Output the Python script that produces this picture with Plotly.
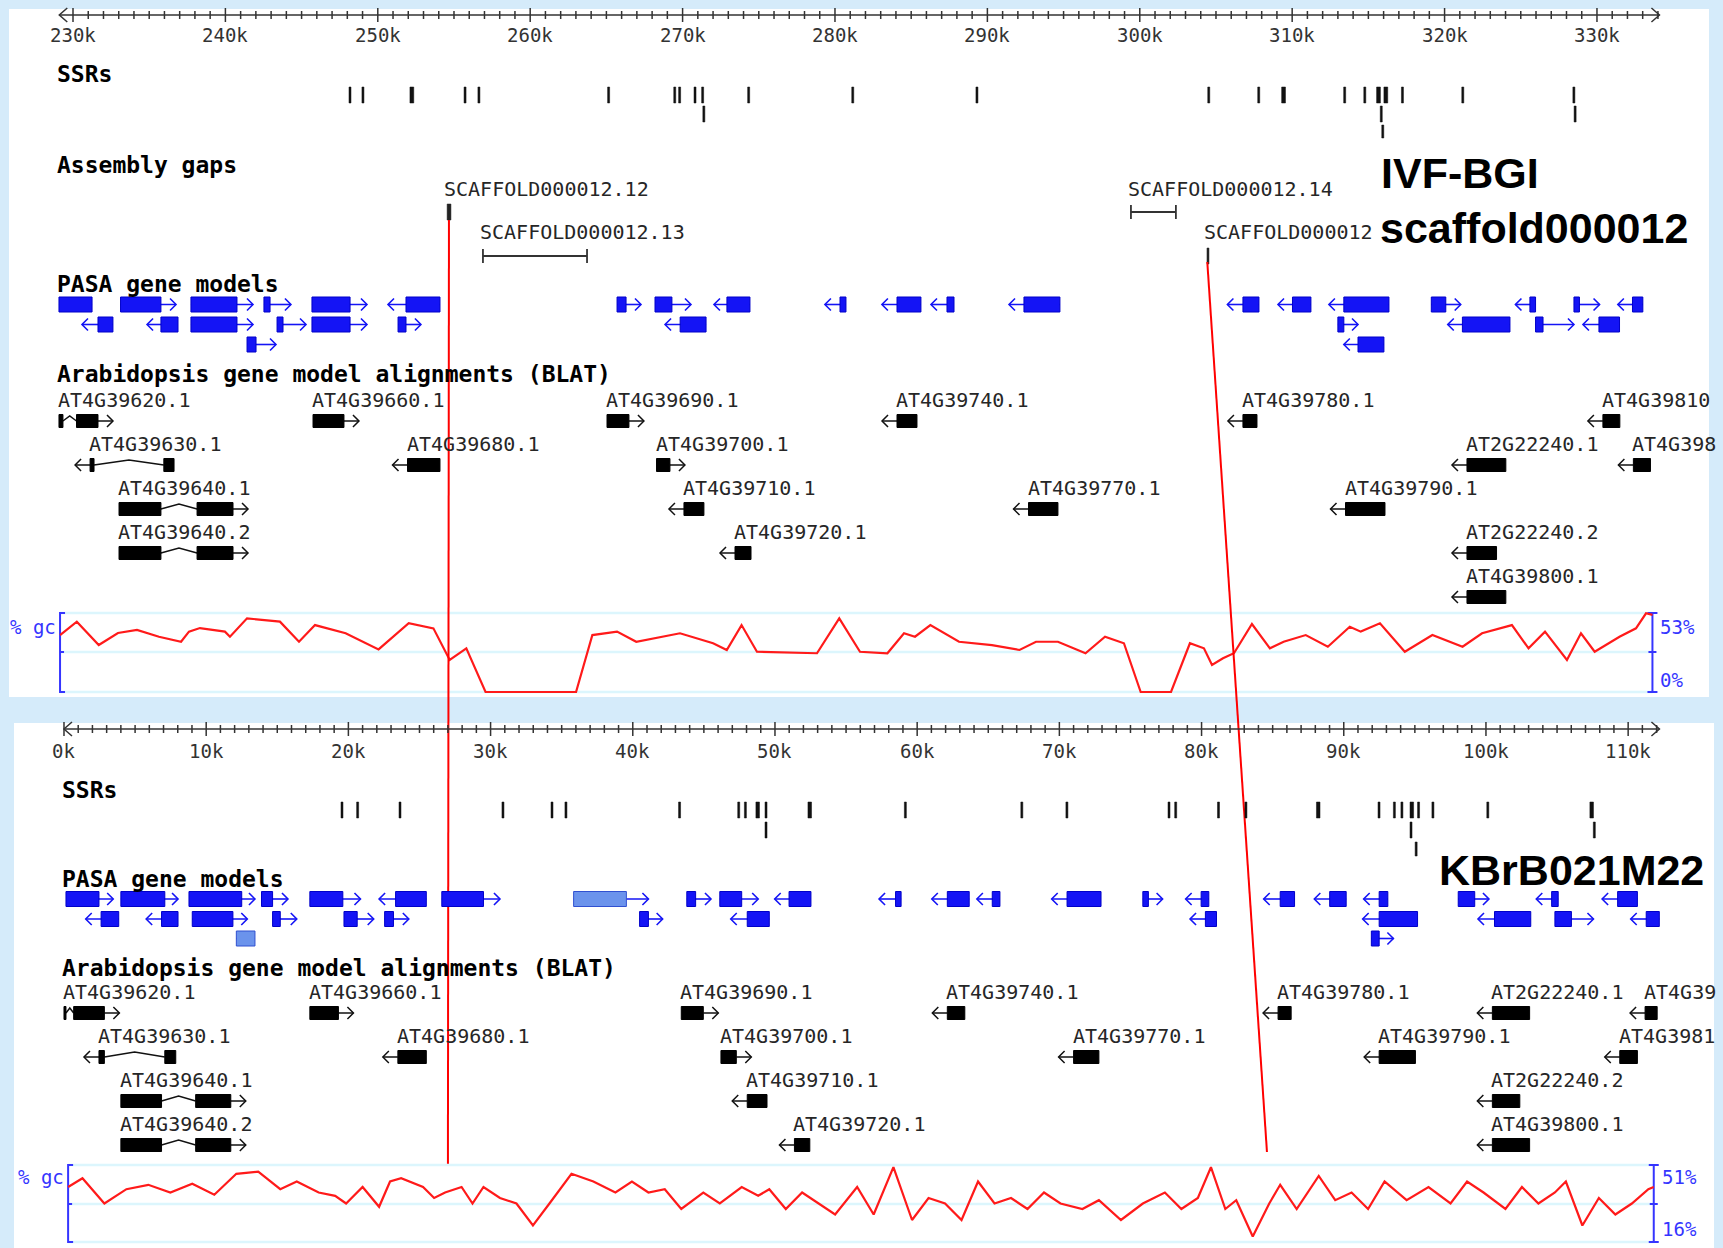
import math
import plotly.graph_objects as go

W, H = 1723, 1248

# ====================== DATA ======================
# rulers (kb)
top_tick_values = [230, 240, 250, 260, 270, 280, 290, 300, 310, 320, 330]
top_tick_labels = ["230k", "240k", "250k", "260k", "270k", "280k", "290k", "300k", "310k", "320k", "330k"]
bot_tick_values = [0, 10, 20, 30, 40, 50, 60, 70, 80, 90, 100, 110]
bot_tick_labels = ["0k", "10k", "20k", "30k", "40k", "50k", "60k", "70k", "80k", "90k", "100k", "110k"]
top_view_kb = [229.1, 334.1]
bot_view_kb = [0.0, 112.2]

# SSRs (kb position, stacking row, length bp)
top_ssr_kb = [248.11, 248.96, 252.11, 255.66, 256.57, 265.08, 269.42, 269.74, 270.75, 271.25,
              274.27, 281.10, 289.25, 304.46, 307.74, 309.31, 313.38, 314.70, 315.54, 316.02,
              317.17, 321.13, 328.42, 271.33, 315.78, 328.50, 315.88]
top_ssr_row = [0] * 23 + [1, 1, 1, 2]
top_ssr_bp = [120, 120, 250, 120, 120, 120, 120, 120, 120, 120,
              120, 120, 120, 120, 120, 250, 120, 120, 250, 250,
              120, 120, 120, 120, 120, 120, 120]
bot_ssr_kb = [19.48, 20.58, 23.56, 30.80, 34.25, 35.23, 43.22, 47.38, 47.85, 48.66,
              49.30, 52.32, 59.10, 67.29, 70.46, 77.64, 78.11, 81.12, 83.05, 88.08,
              92.41, 93.49, 94.02, 94.66, 95.19, 96.20, 100.06, 107.31, 49.30, 94.66,
              107.55, 95.02]
bot_ssr_row = [0] * 28 + [1, 1, 1, 2]
bot_ssr_bp = [120, 120, 120, 120, 120, 120, 120, 120, 120, 250,
              120, 250, 120, 120, 120, 120, 120, 120, 120, 250,
              120, 120, 120, 250, 120, 120, 120, 250, 120, 120,
              120, 120]

# Assembly gaps (top only)
gap_names = ["SCAFFOLD000012.12", "SCAFFOLD000012.13", "SCAFFOLD000012.14", "SCAFFOLD000012"]
gap_start = [254.55, 256.90, 299.42, 304.41]
gap_end = [254.80, 263.73, 302.37, 304.45]
gap_row = [0, 1, 0, 1]

# PASA gene models (kb): start, end, coding block start/end, strand, row
top_pasa_start = [229.08, 233.12, 237.74, 242.53, 245.68, 250.67, 230.59, 234.86, 237.74, 243.39,
                  245.68, 251.33, 241.42, 265.70, 268.19, 272.06, 279.34, 283.08, 286.30, 291.42,
                  268.85, 305.75, 309.07, 312.41, 319.13, 324.65, 328.49, 331.37, 313.00, 320.21,
                  325.97, 329.08, 313.39]
top_pasa_end = [231.25, 236.76, 241.81, 244.30, 249.29, 254.08, 232.62, 236.89, 241.81, 245.29,
                249.29, 252.83, 243.32, 267.27, 270.55, 274.42, 280.72, 285.64, 287.81, 294.76,
                271.54, 307.82, 311.23, 316.35, 321.06, 325.97, 330.17, 333.01, 314.32, 324.29,
                328.49, 331.48, 316.02]
top_pasa_bstart = [229.08, 233.12, 237.74, 242.53, 245.68, 251.85, 231.64, 235.77, 237.74, 243.39,
                   245.68, 251.33, 241.42, 265.70, 268.19, 272.91, 280.33, 284.07, 287.35, 292.40,
                   269.84, 306.77, 310.02, 313.39, 319.13, 325.60, 328.49, 332.33, 313.00, 321.17,
                   325.97, 330.13, 314.32]
top_pasa_bend = [231.25, 235.77, 240.76, 242.93, 248.18, 254.08, 232.62, 236.89, 240.76, 243.78,
                 248.18, 251.85, 242.01, 266.29, 269.30, 274.42, 280.72, 285.64, 287.81, 294.76,
                 271.54, 307.82, 311.23, 316.35, 320.08, 325.97, 328.85, 333.01, 313.39, 324.29,
                 326.46, 331.48, 316.02]
top_pasa_strand = ["+", "+", "+", "+", "+", "-", "-", "-", "+", "+",
                   "+", "+", "+", "+", "+", "-", "-", "-", "-", "-",
                   "-", "-", "-", "-", "+", "-", "+", "-", "+", "-",
                   "+", "-", "-"]
top_pasa_row = [0, 0, 0, 0, 0, 0, 1, 1, 1, 1, 1, 1, 2, 0, 0, 0, 0, 0, 0, 0,
                1, 0, 0, 0, 0, 0, 0, 0, 1, 1, 1, 1, 2]

bot_pasa_start = [0.14, 4.00, 8.79, 13.89, 17.29, 22.16, 26.57, 35.84, 43.80, 46.12,
                  49.98, 57.32, 61.03, 64.20, 69.46, 75.87, 78.88, 84.37, 87.93, 91.40,
                  98.05, 103.54, 108.17,
                  1.53, 5.78, 9.02, 14.67, 19.69, 22.55, 40.48, 46.89, 79.19, 91.33,
                  99.44, 104.85, 110.18,
                  12.12, 91.94]
bot_pasa_end = [3.46, 8.02, 13.43, 15.75, 20.85, 25.48, 30.66, 41.10, 45.50, 48.82,
                52.53, 58.87, 63.66, 65.82, 72.93, 77.26, 80.51, 86.54, 90.17, 93.10,
                100.21, 105.08, 110.65,
                3.85, 8.02, 12.89, 16.37, 21.78, 24.25, 42.10, 49.60, 81.05, 95.19,
                103.15, 107.56, 112.19,
                13.43, 93.49]
bot_pasa_bstart = [0.14, 4.00, 8.79, 13.89, 17.29, 23.32, 26.57, 35.84, 43.80, 46.12,
                   50.99, 58.48, 62.12, 65.28, 70.54, 75.87, 79.97, 85.53, 89.01, 92.49,
                   98.05, 104.62, 109.26,
                   2.61, 6.86, 9.02, 14.67, 19.69, 22.55, 40.48, 48.05, 80.27, 92.49,
                   100.60, 104.85, 111.27,
                   12.12, 91.94]
bot_pasa_bend = [2.46, 7.09, 12.50, 14.67, 19.61, 25.48, 29.50, 39.55, 44.42, 47.66,
                 52.53, 58.87, 63.66, 65.82, 72.93, 76.26, 80.51, 86.54, 90.17, 93.10,
                 99.21, 105.08, 110.65,
                 3.85, 8.02, 11.88, 15.21, 20.62, 23.17, 41.10, 49.60, 81.05, 95.19,
                 103.15, 106.01, 112.19,
                 13.43, 92.49]
bot_pasa_strand = ["+", "+", "+", "+", "+", "-", "+", "+", "+", "+",
                   "-", "-", "-", "-", "-", "+", "-", "-", "-", "-",
                   "+", "-", "-",
                   "-", "-", "+", "+", "+", "+", "+", "-", "-", "-",
                   "-", "+", "-",
                   "-", "+"]
bot_pasa_row = [0] * 23 + [1] * 13 + [2, 2]

# Arabidopsis gene model alignments (BLAT)
top_aln_name = ["AT4G39620.1", "AT4G39630.1", "AT4G39640.1", "AT4G39640.2", "AT4G39660.1",
                "AT4G39680.1", "AT4G39690.1", "AT4G39700.1", "AT4G39710.1", "AT4G39720.1",
                "AT4G39740.1", "AT4G39770.1", "AT4G39780.1", "AT4G39810", "AT2G22240.1",
                "AT4G398", "AT4G39790.1", "AT2G22240.2", "AT4G39800.1"]
top_aln_exons = [[(229.08, 229.34), (230.23, 231.64)], [(231.12, 231.38), (235.96, 236.63)],
                 [(233.02, 235.77), (238.14, 240.50)], [(233.02, 235.77), (238.14, 240.50)],
                 [(245.75, 247.78)], [(251.95, 254.08)], [(265.04, 266.48)], [(268.29, 269.17)],
                 [(270.09, 271.40)], [(273.44, 274.49)], [(284.07, 285.38)], [(292.70, 294.63)],
                 [(306.77, 307.69)], [(330.39, 331.50)], [(321.47, 324.02)], [(332.39, 333.51)],
                 [(313.50, 316.09)], [(321.47, 323.41)], [(321.47, 324.02)]]
top_aln_strand = ["+", "-", "+", "+", "+", "-", "+", "+", "-", "-",
                  "-", "-", "-", "-", "-", "-", "-", "-", "-"]
top_aln_row = [0, 1, 2, 3, 0, 1, 0, 1, 2, 3, 0, 2, 0, 0, 1, 1, 2, 3, 4]

bot_aln_name = ["AT4G39620.1", "AT4G39660.1", "AT4G39690.1", "AT4G39740.1", "AT4G39780.1",
                "AT2G22240.1", "AT4G39", "AT4G39630.1", "AT4G39680.1", "AT4G39700.1",
                "AT4G39770.1", "AT4G39790.1", "AT4G3981", "AT4G39640.1", "AT4G39710.1",
                "AT2G22240.2", "AT4G39640.2", "AT4G39720.1", "AT4G39800.1"]
bot_aln_exons = [[(0.00, 0.14), (0.68, 2.84)], [(17.29, 19.30)], [(43.41, 44.96)], [(62.12, 63.35)],
                 [(85.38, 86.30)], [(100.45, 103.07)], [(111.19, 112.04)],
                 [(2.46, 2.84), (7.09, 7.86)], [(23.48, 25.48)], [(46.20, 47.28)], [(71.00, 72.78)],
                 [(92.49, 95.04)], [(109.41, 110.65)], [(4.00, 6.86), (9.26, 11.73)],
                 [(48.05, 49.44)], [(100.45, 102.38)], [(4.00, 6.86), (9.26, 11.73)],
                 [(51.37, 52.45)], [(100.45, 103.07)]]
bot_aln_strand = ["+", "+", "+", "-", "-", "-", "-", "-", "-", "+",
                  "-", "-", "-", "+", "-", "-", "+", "-", "-"]
bot_aln_row = [0, 0, 0, 0, 0, 0, 0, 1, 1, 1, 1, 1, 1, 2, 2, 2, 3, 3, 3]

# % GC
top_gc_kb = [229.15, 230.25, 231.69, 232.95, 234.20, 235.64, 237.09, 237.61, 238.33, 239.97,
             240.30, 241.42, 243.58, 244.83, 245.88, 247.89, 250.05, 252.03, 253.65, 254.72,
             255.81, 257.07, 263.01, 264.08, 265.70, 266.96, 269.83, 272.00, 272.90, 273.87,
             274.88, 278.82, 280.28, 281.64, 283.44, 284.53, 285.25, 286.26, 288.14, 290.30,
             292.11, 293.19, 294.63, 296.44, 297.72, 298.96, 300.06, 302.05, 303.29, 304.21,
             304.74, 305.46, 306.18, 307.36, 308.54, 309.44, 310.89, 312.34, 313.78, 314.50,
             315.76, 317.39, 319.20, 321.18, 322.46, 324.42, 325.51, 326.59, 328.03, 328.95,
             329.85, 331.48, 332.56, 333.22, 333.64]
top_gc_pct = [38.2, 47.2, 31.5, 39.6, 41.6, 37.1, 33.7, 40.5, 42.9, 40.5,
              37.1, 49.4, 47.2, 33.7, 44.9, 39.4, 28.6, 46.1, 42.7, 21.5,
              29.3, 0.0, 0.0, 38.2, 40.5, 33.7, 39.4, 32.7, 28.2, 44.9,
              27.0, 26.0, 49.4, 27.0, 26.0, 39.4, 37.1, 44.9, 33.7, 31.5,
              28.2, 33.7, 33.7, 26.0, 37.1, 32.7, 0.0, 0.0, 32.7, 29.3,
              18.1, 22.6, 26.0, 45.6, 29.3, 33.7, 38.2, 30.4, 43.8, 40.5,
              46.1, 27.0, 38.2, 30.4, 39.4, 44.9, 29.3, 40.5, 21.5, 39.4,
              27.0, 37.1, 42.7, 52.8, 51.7]
top_gc_scale = [0, 53]
top_gc_labels = ["53%", "0%"]

bot_gc_kb = [0.29, 1.30, 2.84, 4.39, 5.93, 7.48, 9.02, 10.57, 12.12, 13.66,
             15.21, 16.37, 17.91, 19.07, 19.84, 21.00, 22.16, 22.93, 23.71, 25.25,
             26.03, 26.80, 27.96, 28.73, 29.50, 30.66, 31.82, 32.98, 34.14, 35.69,
             37.23, 38.78, 39.94, 41.10, 42.25, 43.41, 44.96, 46.12, 47.66, 48.82,
             49.60, 50.76, 51.91, 53.07, 54.23, 55.78, 56.94, 58.33, 59.64, 60.80,
             61.96, 63.12, 64.28, 65.44, 66.60, 67.76, 68.92, 70.08, 71.62, 72.78,
             74.33, 75.87, 77.42, 78.58, 79.74, 80.66, 81.67, 82.44, 83.60, 84.76,
             85.53, 86.69, 88.24, 89.40, 90.55, 91.71, 92.87, 94.42, 95.96, 97.51,
             98.67, 99.83, 101.37, 102.53, 103.69, 104.85, 105.62, 106.78, 107.94, 109.10,
             110.26, 111.42, 111.80]
bot_gc_pct = [41.0, 45.0, 33.5, 40.0, 42.0, 38.5, 42.5, 37.5, 47.0, 48.0,
              40.0, 43.5, 38.5, 37.0, 33.5, 41.0, 32.0, 43.5, 45.0, 41.0,
              36.0, 38.5, 41.0, 33.5, 41.0, 36.0, 33.5, 23.5, 33.5, 47.0,
              43.5, 38.5, 43.5, 38.5, 40.0, 31.0, 38.5, 33.5, 41.0, 37.0,
              40.0, 31.0, 38.5, 33.5, 28.5, 41.0, 28.5, 50.0, 26.0, 36.0,
              33.5, 26.0, 43.5, 33.5, 36.0, 31.0, 38.5, 33.5, 31.0, 35.0,
              26.0, 33.5, 38.5, 31.0, 36.0, 50.0, 31.0, 35.0, 18.5, 33.5,
              42.0, 31.0, 46.0, 35.0, 38.5, 31.0, 43.5, 35.0, 41.0, 33.5,
              43.5, 38.5, 31.0, 41.0, 33.5, 38.5, 43.5, 23.5, 36.0, 28.5,
              33.5, 40.0, 41.0]
bot_gc_scale = [16, 51]
bot_gc_labels = ["51%", "16%"]

# correspondence links between the two assemblies (kb)
link_top_kb = [254.67, 304.43]
link_bot_kb = [27.0, 84.6]

# ====================== LAYOUT / STYLE ======================
AX = {"x": (225.21, 338.27), "x2": (-4.50, 116.67)}
MONO = "DejaVu Sans Mono"
SANS = "Liberation Sans"
BG = "#d5ebfa"
TXT = "#262626"
BLUE = "#1414f5"
LIGHTBLUE = "#6b93ec"
GCBLUE = "#3535ff"
GRID = "#dcf6fd"

TOPY = dict(ruler=15, ticklab=35, ssr_title=74, ssr_rows=[(87, 103), (106, 122), (125, 138)],
            gaps_title=165, gap_label=[189, 232], gap_glyph=[212, 256],
            pasa_title=284, pasa_rows=[304.5, 324.5, 344.5],
            aln_title=374, aln_label=[400, 444, 488, 532, 576], aln_glyph=[421, 465, 509, 553, 597],
            gc=(613, 652, 692), gc_lab=(627, 680), title_x=58)
BOTY = dict(ruler=729, ticklab=751, ssr_title=790, ssr_rows=[(802, 818), (822, 838), (842, 856)],
            pasa_title=879, pasa_rows=[899, 919, 938.5],
            aln_title=968, aln_label=[992, 1036, 1080, 1124], aln_glyph=[1013, 1057, 1101, 1145],
            gc=(1165, 1204, 1242), gc_lab=(1177, 1229), title_x=63)

fig = go.Figure()


def kpp(ax):
    return (AX[ax][1] - AX[ax][0]) / W


def add_lines(ax, segs, color, width):
    xs, ys = [], []
    for sx, sy in segs:
        xs += list(sx) + [None]
        ys += list(sy) + [None]
    fig.add_trace(go.Scatter(x=xs, y=ys, mode="lines", line=dict(color=color, width=width),
                             xaxis=ax, yaxis="y", hoverinfo="skip", showlegend=False,
                             connectgaps=False))


def add_polys(ax, polys, fill, linecolor, lw=1):
    xs, ys = [], []
    for px, py in polys:
        xs += list(px) + [px[0], None]
        ys += list(py) + [py[0], None]
    fig.add_trace(go.Scatter(x=xs, y=ys, mode="lines", fill="toself", fillcolor=fill,
                             line=dict(color=linecolor, width=lw), xaxis=ax, yaxis="y",
                             hoverinfo="skip", showlegend=False, connectgaps=False))


def rect(x0, x1, y0, y1):
    return ([x0, x1, x1, x0], [y0, y0, y1, y1])


def label(ax, x, y, s, size=20, color=TXT, xanchor="left", bold=False, family=MONO, xshift=-3):
    fig.add_annotation(x=x, y=y, xref=ax, yref="y", text=("<b>%s</b>" % s) if bold else s,
                       showarrow=False, xanchor=xanchor, yanchor="middle", xshift=xshift,
                       font=dict(family=family, size=size, color=color))


def title(L, y, s):
    fig.add_annotation(x=L["title_x"] / W, y=y, xref="paper", yref="y", text="<b>%s</b>" % s,
                       showarrow=False, xanchor="left", yanchor="middle", xshift=-3,
                       font=dict(family=MONO, size=23, color="#000"))


# panels
fig.add_shape(type="rect", xref="paper", yref="y", x0=9 / W, x1=1709 / W, y0=9, y1=697,
              fillcolor="white", line_width=0, layer="below")
fig.add_shape(type="rect", xref="paper", yref="y", x0=14 / W, x1=1714 / W, y0=723, y1=1252,
              fillcolor="white", line_width=0, layer="below")


def ruler(ax, L, view, tvals, tlabs):
    k = kpp(ax)
    y = L["ruler"]
    segs = [([view[0], view[1]], [y, y])]
    for t in range(math.ceil(view[0]), math.floor(view[1]) + 1):
        h = 7 if t % 10 == 0 else 4
        segs.append(([t, t], [y - h, y + h]))
    a = 8 * k
    segs.append(([view[0] + a, view[0], view[0] + a], [y - 7, y, y + 7]))
    segs.append(([view[1] - a, view[1], view[1] - a], [y - 7, y, y + 7]))
    add_lines(ax, segs, "#333", 1.5)
    for v, s in zip(tvals, tlabs):
        label(ax, v, L["ticklab"], s, size=19, color="#333", xanchor="center", xshift=0)


def ssrs(ax, L, kbs, rows, bps):
    k = kpp(ax)
    polys = []
    for p, r, bp in zip(kbs, rows, bps):
        w = max(bp / 1000.0, 2 * k)
        y0, y1 = L["ssr_rows"][r]
        polys.append(rect(p, p + w, y0, y1))
    add_polys(ax, polys, "#111", "#111", 0.5)
    title(L, L["ssr_title"], "SSRs")


def pasa(ax, L, st, en, bs, be, strand, rows, light=()):
    k = kpp(ax)
    lsegs, dark, lite = [], [], []
    for i in range(len(st)):
        yc = L["pasa_rows"][rows[i]]
        lsegs.append(([st[i], en[i]], [yc, yc]))
        a = 6 * k
        if strand[i] == "+" and en[i] > be[i] + 1e-9:
            lsegs.append(([en[i] - a, en[i], en[i] - a], [yc - 6, yc, yc + 6]))
        if strand[i] == "-" and st[i] < bs[i] - 1e-9:
            lsegs.append(([st[i] + a, st[i], st[i] + a], [yc - 6, yc, yc + 6]))
        box = rect(bs[i], be[i], yc - 7.5, yc + 7.5)
        (lite if i in light else dark).append(box)
    add_lines(ax, lsegs, BLUE, 1.6)
    add_polys(ax, dark, BLUE, "#0000c8", 1)
    if lite:
        add_polys(ax, lite, LIGHTBLUE, "#3050d0", 1)
    title(L, L["pasa_title"], "PASA gene models")


def alignments(ax, L, names, exons, strand, rows):
    k = kpp(ax)
    lsegs, boxes = [], []
    for nm, ex, s, r in zip(names, exons, strand, rows):
        yc = L["aln_glyph"][r]
        for (a, b) in ex:
            boxes.append(rect(a, b, yc - 6.5, yc + 6.5))
        for (a0, b0), (a1, b1) in zip(ex[:-1], ex[1:]):
            m = (b0 + a1) / 2
            lsegs.append(([b0, m, a1], [yc, yc - 5, yc]))
        al = 15 * k
        hd = 6 * k
        if s == "+":
            e = ex[-1][1]
            lsegs.append(([e, e + al], [yc, yc]))
            lsegs.append(([e + al - hd, e + al, e + al - hd], [yc - 6, yc, yc + 6]))
        else:
            b = ex[0][0]
            lsegs.append(([b - al, b], [yc, yc]))
            lsegs.append(([b - al + hd, b - al, b - al + hd], [yc - 6, yc, yc + 6]))
        label(ax, ex[0][0], L["aln_label"][r], nm)
    add_lines(ax, lsegs, "#111", 1.5)
    add_polys(ax, boxes, "#000", "#000", 1)
    title(L, L["aln_title"], "Arabidopsis gene model alignments (BLAT)")


def gc_track(ax, L, kbs, pct, scale, labs):
    k = kpp(ax)
    top, mid, bot = L["gc"]
    x0, x1 = kbs[0], kbs[-1]
    add_lines(ax, [([x0, x1], [top, top]), ([x0, x1], [mid, mid]), ([x0, x1], [bot, bot])], GRID, 2.5)
    c = 5 * k
    segs = [([x0 + c, x0, x0, x0 + c], [top, top, bot, bot]), ([x0, x0 + c * 0.8], [mid, mid]),
            ([x1, x1], [top, bot]), ([x1 - c, x1 + c], [top, top]), ([x1 - c, x1 + c], [bot, bot]),
            ([x1 - c * 0.8, x1 + c * 0.8], [mid, mid])]
    add_lines(ax, segs, GCBLUE, 2)
    ys = [bot - (p - scale[0]) / (scale[1] - scale[0]) * (bot - top) for p in pct]
    ys = [min(max(v, top - 2), bot + 2) for v in ys]
    fig.add_trace(go.Scatter(x=kbs, y=ys, mode="lines", line=dict(color="#ff1a1a", width=2.2),
                             xaxis=ax, yaxis="y", hoverinfo="skip", showlegend=False))
    label(ax, x0, L["gc_lab"][0], "% gc", size=19, color=GCBLUE, xanchor="right", xshift=-2)
    label(ax, x1, L["gc_lab"][0], labs[0], size=19, color=GCBLUE, xanchor="left", xshift=6)
    label(ax, x1, L["gc_lab"][1], labs[1], size=19, color=GCBLUE, xanchor="left", xshift=6)


# ---------------- top panel ----------------
ruler("x", TOPY, top_view_kb, top_tick_values, top_tick_labels)
ssrs("x", TOPY, top_ssr_kb, top_ssr_row, top_ssr_bp)

title(TOPY, TOPY["gaps_title"], "Assembly gaps")
kt = kpp("x")
gsegs, gpolys = [], []
for nm, a, b, r in zip(gap_names, gap_start, gap_end, gap_row):
    yc = TOPY["gap_glyph"][r]
    if (b - a) / kt < 6:
        gpolys.append(rect(a, max(b, a + 2 * kt), yc - 8, yc + 8))
    else:
        gsegs += [([a, b], [yc, yc]), ([a, a], [yc - 7, yc + 7]), ([b, b], [yc - 7, yc + 7])]
    label("x", a, TOPY["gap_label"][r], nm, xshift=-5)
add_lines("x", gsegs, "#333", 1.8)
add_polys("x", gpolys, "#222", "#222", 0.5)

pasa("x", TOPY, top_pasa_start, top_pasa_end, top_pasa_bstart, top_pasa_bend,
     top_pasa_strand, top_pasa_row)
alignments("x", TOPY, top_aln_name, top_aln_exons, top_aln_strand, top_aln_row)
gc_track("x", TOPY, top_gc_kb, top_gc_pct, top_gc_scale, top_gc_labels)

# ---------------- bottom panel ----------------
ruler("x2", BOTY, bot_view_kb, bot_tick_values, bot_tick_labels)
ssrs("x2", BOTY, bot_ssr_kb, bot_ssr_row, bot_ssr_bp)
pasa("x2", BOTY, bot_pasa_start, bot_pasa_end, bot_pasa_bstart, bot_pasa_bend,
     bot_pasa_strand, bot_pasa_row, light=(7, 36))
alignments("x2", BOTY, bot_aln_name, bot_aln_exons, bot_aln_strand, bot_aln_row)
gc_track("x2", BOTY, bot_gc_kb, bot_gc_pct, bot_gc_scale, bot_gc_labels)

# ---------------- links between assemblies ----------------
t0, t1 = AX["x"]
b0, b1 = AX["x2"]
link_y_top = [220, 262]
link_y_bot = [1165, 1152]
lsegs = []
for kt_, kb_, ya, yb in zip(link_top_kb, link_bot_kb, link_y_top, link_y_bot):
    xb = t0 + (kb_ - b0) / (b1 - b0) * (t1 - t0)
    lsegs.append(([kt_, xb], [ya, yb]))
add_lines("x", lsegs, "#ff0000", 2)

# ---------------- big captions ----------------
for s, cx, cy in [("IVF-BGI", 1460, 173), ("scaffold000012", 1534, 228), ("KBrB021M22", 1571, 870)]:
    fig.add_annotation(x=cx / W, y=cy, xref="paper", yref="y", text="<b>%s</b>" % s,
                       showarrow=False, xanchor="center", yanchor="middle",
                       font=dict(family=SANS, size=43, color="#000"))

fig.update_layout(
    width=W, height=H, margin=dict(l=0, r=0, t=0, b=0),
    paper_bgcolor=BG, plot_bgcolor="rgba(0,0,0,0)", showlegend=False,
    xaxis=dict(range=list(AX["x"]), visible=False, domain=[0, 1], anchor="y", fixedrange=True),
    xaxis2=dict(range=list(AX["x2"]), visible=False, domain=[0, 1], anchor="y", overlaying="x",
                fixedrange=True),
    yaxis=dict(range=[H, 0], visible=False, domain=[0, 1], fixedrange=True),
)

fig.write_html("out.html", config={"displayModeBar": False, "staticPlot": True},
               post_script="document.body.style.margin='0';document.body.style.background='%s';" % BG)
